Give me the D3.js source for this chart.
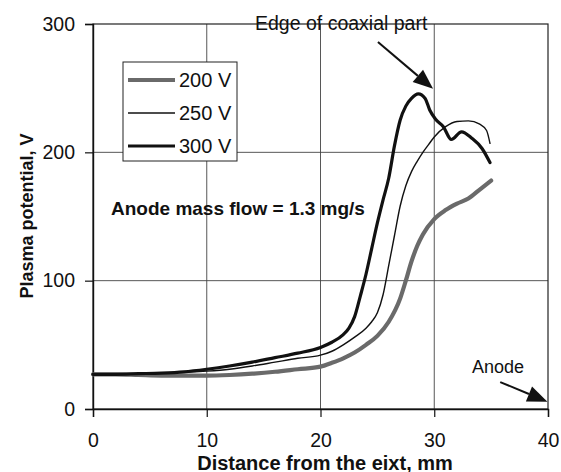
<!DOCTYPE html>
<html>
<head>
<meta charset="utf-8">
<script src="https://cdn.jsdelivr.net/npm/d3@7"></script>
<style>
  body { margin: 0; background: #fff; }
  svg { display: block; font-family: "Liberation Sans", Arial, sans-serif; }
</style>
</head>
<body>
<svg id="chart" width="561" height="472"></svg>
<script>
// distance from exit (mm) and plasma potential (V) for each discharge voltage
const dist200 = [0, 2, 4, 6, 8, 10, 12, 14, 16, 18, 20, 21, 22, 23, 24, 25, 26, 27, 27.5, 28, 28.5, 29, 30, 31, 32, 33, 34, 35];
const volt200 = [27, 27, 26.5, 26, 26, 26, 26.5, 27.5, 29, 31, 33, 36, 39.5, 44, 50, 57, 68, 86, 100, 115, 127, 136, 148, 155, 160, 164, 171, 178];

const dist250 = [0, 2, 4, 6, 8, 10, 12, 14, 16, 18, 20, 21, 22, 23, 24, 24.5, 25, 25.5, 26, 26.5, 27, 27.5, 28, 28.5, 29, 29.5, 30, 31, 32, 33, 34, 34.6, 34.9];
const volt250 = [27, 27, 27.5, 28, 28.5, 29.5, 31, 33.5, 36.5, 39.5, 42, 45, 50, 56, 63, 68, 75, 89, 112, 135, 158, 174, 185, 193, 200, 206, 212, 220, 224, 224.5, 222, 217, 207];

const dist300 = [0, 2, 4, 6, 8, 10, 12, 14, 16, 18, 20, 21, 22, 22.5, 23, 23.5, 24, 24.5, 25, 25.5, 26, 26.5, 27, 27.5, 28, 28.6, 29.2, 29.6, 30.1, 30.8, 31.5, 32.4, 33.3, 34.2, 34.9];
const volt300 = [27, 27, 27.5, 28, 29, 31, 33.5, 36.5, 40, 43.5, 48, 52, 58, 63, 72, 88, 105, 125, 145, 163, 180, 205, 225, 236, 242, 245.5, 242, 233, 226, 220, 210, 216, 211, 203, 192];

const seriesNames = ['200 V', '250 V', '300 V'];
const xTicks = [0, 10, 20, 30, 40];
const yTicks = [0, 100, 200, 300];

const margin = { top: 24, right: 13, bottom: 63, left: 93 };
const width = 561 - margin.left - margin.right;
const height = 472 - margin.top - margin.bottom;

const svg = d3.select('#chart');
const chart = svg.append('g')
  .attr('transform', `translate(${margin.left},${margin.top})`);

const xScale = d3.scaleLinear().domain([0, 40]).range([0, width]);
const yScale = d3.scaleLinear().domain([0, 300]).range([height, 0]);

// grid
chart.append('g')
  .selectAll('line')
  .data(xTicks.slice(1, -1))
  .join('line')
  .attr('x1', d => xScale(d)).attr('x2', d => xScale(d))
  .attr('y1', 0).attr('y2', height)
  .attr('stroke', '#444').attr('stroke-width', 0.9);
chart.append('g')
  .selectAll('line')
  .data(yTicks.slice(1, -1))
  .join('line')
  .attr('x1', 0).attr('x2', width)
  .attr('y1', d => yScale(d)).attr('y2', d => yScale(d))
  .attr('stroke', '#444').attr('stroke-width', 0.9);

// frame
chart.append('rect')
  .attr('width', width).attr('height', height)
  .attr('fill', 'none').attr('stroke', '#222').attr('stroke-width', 1.2);

// axes
const xAxis = chart.append('g')
  .attr('transform', `translate(0,${height})`)
  .call(d3.axisBottom(xScale).tickValues(xTicks).tickSize(8).tickPadding(16));
const yAxis = chart.append('g')
  .call(d3.axisLeft(yScale).tickValues(yTicks).tickSize(8).tickPadding(10));
[xAxis, yAxis].forEach(a => {
  a.select('.domain').attr('stroke', '#111').attr('stroke-width', 1.4);
  a.selectAll('.tick line').attr('stroke', '#111').attr('stroke-width', 1.2);
  a.selectAll('.tick text')
    .attr('font-size', 19.5).attr('fill', '#111')
    .attr('font-family', '"Liberation Sans", Arial, sans-serif');
});

// curves
const line = d3.line()
  .x(d => xScale(d[0]))
  .y(d => yScale(d[1]))
  .curve(d3.curveMonotoneX);

const series = [
  { name: seriesNames[0], pts: d3.zip(dist200, volt200), color: '#6a6a6a', w: 4.2 },
  { name: seriesNames[1], pts: d3.zip(dist250, volt250), color: '#111', w: 1.4 },
  { name: seriesNames[2], pts: d3.zip(dist300, volt300), color: '#111', w: 3.2 }
];

chart.append('g')
  .selectAll('path')
  .data(series)
  .join('path')
  .attr('d', d => line(d.pts))
  .attr('fill', 'none')
  .attr('stroke', d => d.color)
  .attr('stroke-width', d => d.w)
  .attr('stroke-linejoin', 'round')
  .attr('stroke-linecap', 'round');

// legend
const legend = chart.append('g').attr('transform', 'translate(30,38)');
legend.append('rect')
  .attr('width', 114).attr('height', 99)
  .attr('fill', '#fff').attr('stroke', '#222').attr('stroke-width', 1);
series.forEach((s, i) => {
  const y = 18 + i * 33;
  legend.append('line')
    .attr('x1', 5).attr('x2', 52).attr('y1', y).attr('y2', y)
    .attr('stroke', s.color).attr('stroke-width', s.w);
  legend.append('text')
    .attr('x', 56).attr('y', y + 7)
    .attr('font-size', 20).attr('fill', '#111')
    .text(s.name);
});

// annotations
chart.append('text')
  .attr('x', 18).attr('y', 191)
  .attr('font-size', 19).attr('font-weight', 'bold').attr('fill', '#111')
  .text('Anode mass flow = 1.3 mg/s');

chart.append('text')
  .attr('x', 162).attr('y', 6)
  .attr('font-size', 19.5).attr('fill', '#111')
  .text('Edge of coaxial part');

chart.append('text')
  .attr('x', 379).attr('y', 349)
  .attr('font-size', 18).attr('fill', '#111')
  .text('Anode');

function arrow(x0, y0, x1, y1) {
  const px0 = xScale(x0), py0 = yScale(y0), px1 = xScale(x1), py1 = yScale(y1);
  const ang = Math.atan2(py1 - py0, px1 - px0);
  const len = 20, half = 8;
  const bx = px1 - len * Math.cos(ang), by = py1 - len * Math.sin(ang);
  chart.append('line')
    .attr('x1', px0).attr('y1', py0).attr('x2', bx).attr('y2', by)
    .attr('stroke', '#111').attr('stroke-width', 2);
  const pts = [
    [px1, py1],
    [bx + half * Math.sin(ang), by - half * Math.cos(ang)],
    [bx - half * Math.sin(ang), by + half * Math.cos(ang)]
  ];
  chart.append('polygon')
    .attr('points', pts.map(p => p.join(',')).join(' '))
    .attr('fill', '#111');
}
arrow(25.05, 286, 29.9, 249.5);
arrow(35.8, 21, 39.95, 5.7);

// axis titles
svg.append('text')
  .attr('x', 325).attr('y', 469.5)
  .attr('text-anchor', 'middle')
  .attr('font-size', 20).attr('font-weight', 'bold').attr('fill', '#111')
  .text('Distance from the eixt, mm');

svg.append('text')
  .attr('transform', 'translate(33,216) rotate(-90)')
  .attr('text-anchor', 'middle')
  .attr('font-size', 18).attr('font-weight', 'bold').attr('fill', '#111')
  .text('Plasma potential, V');
</script>
</body>
</html>
